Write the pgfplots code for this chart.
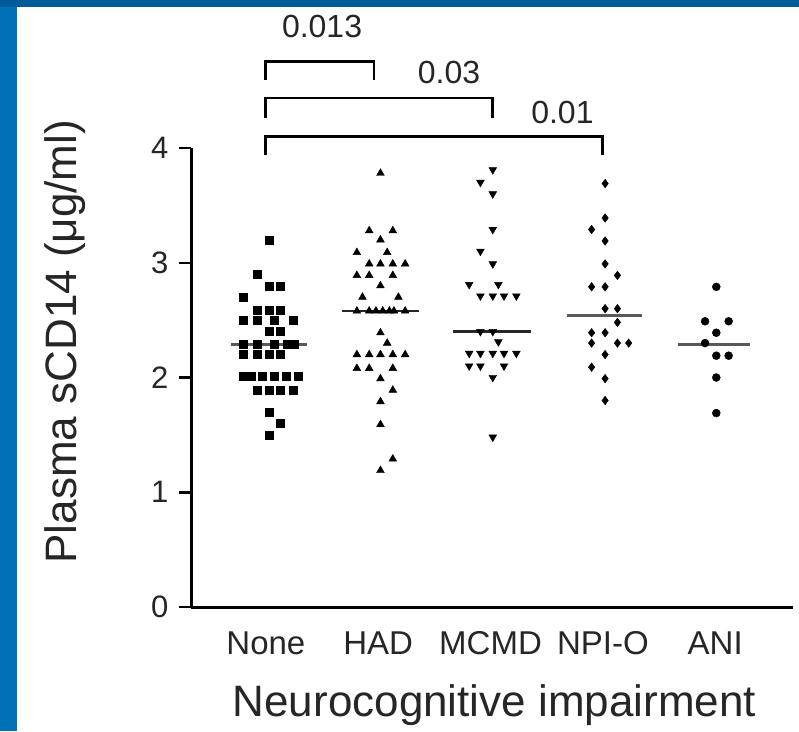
\documentclass[border=0pt]{standalone}
\usepackage{fontspec}
\setmainfont{Liberation Sans}
\usepackage{pgfplots}
\pgfplotsset{compat=1.18}

\definecolor{frameleft}{RGB}{0,112,183}
\definecolor{frametop}{RGB}{0,92,152}
\newcommand\fs[1]{\fontsize{#1}{#1}\selectfont}

\begin{document}
\begin{tikzpicture}
% slide frame
\path[use as bounding box, fill=white] (0,0) rectangle (799pt,731pt);
\fill[frameleft] (0,0) rectangle (17pt,731pt);
\fill[frametop] (0,724pt) rectangle (799pt,731pt);

\begin{axis}[
    at={(191pt,124pt)}, anchor=south west,
    scale only axis,
    width=602pt, height=459pt,
    xmin=0.3333, xmax=5.693,
    ymin=0, ymax=4,
    axis x line=bottom, axis y line=left,
    axis line style={line width=3pt, -},
    clip=false,
    ytick={0,1,2,3,4},
    xtick={1,2,3,4,5},
    xticklabels={None,HAD,MCMD,NPI-O,ANI},
    tick align=outside,
    major tick length=12pt,
    ytick style={line width=2.5pt, black},
    xtick style={draw=none},
    /pgf/number format/assume math mode=true,
    yticklabel style={font=\fs{31}, text=black!85, xshift=-7pt},
    xticklabel style={font=\fs{33}, text=black!85, yshift=-9pt},
    ylabel={Plasma sCD14 (μg/ml)},
    ylabel style={font=\fs{44}, text=black!85, at={(axis description cs:-0.209,0.578)}, anchor=center, rotate=0},
    xlabel={Neurocognitive impairment},
    xlabel style={font=\fs{44}, text=black!85, at={(axis description cs:0.504,-0.2375)}, anchor=base},
    mark options={solid, fill=black, draw=black},
]

% None
\addplot[only marks, mark=square*, mark size=4pt] coordinates {
 (1.03,3.20) (0.92,2.90) (1.03,2.80) (1.13,2.80) (0.80,2.70)
 (0.92,2.59) (1.03,2.59) (1.13,2.59)
 (0.80,2.50) (0.92,2.50) (1.07,2.50) (1.24,2.50)
 (1.03,2.40) (1.13,2.40)
 (0.80,2.29) (0.92,2.29) (1.07,2.29) (1.19,2.29) (1.25,2.29)
 (0.80,2.20) (0.92,2.20) (1.03,2.20) (1.13,2.20)
 (0.80,2.01) (0.87,2.01) (0.97,2.01) (1.07,2.01) (1.18,2.01) (1.29,2.01)
 (0.92,1.89) (1.03,1.89) (1.13,1.89) (1.24,1.89)
 (1.03,1.70) (1.13,1.60) (1.03,1.50)
};

% HAD
\addplot[only marks, mark=triangle*, mark size=4.5pt] coordinates {
 (2.02,3.78) (1.92,3.28) (2.13,3.28) (2.02,3.20) (1.81,3.09) (2.08,3.09)
 (1.92,2.99) (2.02,2.99) (2.13,2.99) (2.24,2.99)
 (1.81,2.89) (1.92,2.89) (2.13,2.89) (2.02,2.80) (1.86,2.70) (2.18,2.70)
 (1.81,2.58) (1.92,2.58) (1.98,2.58) (2.04,2.58) (2.10,2.58) (2.14,2.58) (2.24,2.58)
 (2.02,2.39) (2.08,2.30)
 (1.81,2.20) (1.92,2.20) (2.02,2.20) (2.13,2.20) (2.24,2.20)
 (1.81,2.08) (1.92,2.08) (2.13,2.08)
 (2.02,1.99) (2.13,1.89) (2.02,1.79) (2.02,1.59) (2.13,1.29) (2.02,1.19)
};

% MCMD
\addplot[only marks, mark=triangle*, mark size=4.5pt,
  mark options={rotate=180}] coordinates {
 (3.02,3.81) (2.91,3.70) (3.02,3.60) (3.02,3.29) (2.91,3.10) (3.02,2.99)
 (2.81,2.81) (3.07,2.81)
 (2.91,2.71) (3.02,2.71) (3.12,2.71) (3.23,2.71)
 (2.91,2.40) (3.02,2.40) (3.07,2.31)
 (2.81,2.21) (2.91,2.21) (3.02,2.21) (3.12,2.21) (3.23,2.21)
 (2.81,2.10) (2.91,2.10) (3.12,2.10)
 (3.02,2.00) (3.02,1.48)
};

% NPI-O
\addplot[only marks, mark=diamond*, mark size=4.3pt] coordinates {
 (4.02,3.69) (4.02,3.39) (3.90,3.29) (4.02,3.19) (4.02,2.99) (4.13,2.89)
 (3.90,2.79) (4.02,2.79) (4.02,2.60) (4.13,2.60) (4.13,2.48)
 (3.90,2.39) (4.02,2.39) (3.90,2.30) (4.13,2.30) (4.23,2.30)
 (4.02,2.20) (3.90,2.09) (4.02,1.99) (4.02,1.80)
};

% ANI
\addplot[only marks, mark=*, mark size=4pt] coordinates {
 (5.01,2.79) (4.91,2.49) (5.12,2.49) (5.01,2.39) (4.91,2.30)
 (5.01,2.19) (5.12,2.19) (5.01,2.00) (5.01,1.69)
};

% medians
\addplot[gray!70!black, line width=2.6pt] coordinates {(0.69,2.29) (1.37,2.29)};
\addplot[black!85, line width=2.4pt] coordinates {(1.68,2.58) (2.36,2.58)};
\addplot[black!85, line width=2.4pt] coordinates {(2.67,2.40) (3.36,2.40)};
\addplot[gray!70!black, line width=2.6pt] coordinates {(3.68,2.54) (4.35,2.54)};
\addplot[gray!70!black, line width=2.6pt] coordinates {(4.67,2.29) (5.31,2.29)};

% significance brackets
\addplot[black, line width=2.8pt] coordinates {(1.0,4.594) (1.0,4.754) (1.963,4.754) (1.963,4.594)};
\addplot[black, line width=2.8pt] coordinates {(1.0,4.264) (1.0,4.435) (3.02,4.435) (3.02,4.264)};
\addplot[black, line width=2.8pt] coordinates {(1.0,3.94) (1.0,4.10) (4.0,4.10) (4.0,3.94)};
\node[font=\fs{32}, text=black!85] at (axis cs:1.50,5.057) {0.013};
\node[font=\fs{32}, text=black!85] at (axis cs:2.63,4.656) {0.03};
\node[font=\fs{32}, text=black!85] at (axis cs:3.64,4.31) {0.01};

\end{axis}
\end{tikzpicture}
\end{document}
